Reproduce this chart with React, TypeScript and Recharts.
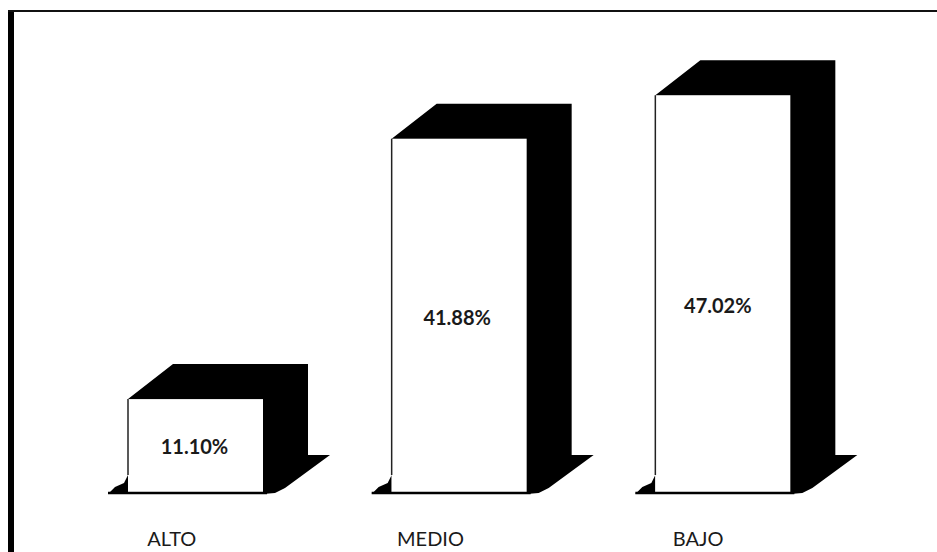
import { BarChart, Bar, XAxis, YAxis, LabelList } from "recharts";

const categories = ["ALTO", "MEDIO", "BAJO"];
const percentages = [11.1, 41.88, 47.02];
const labels = ["11.10%", "41.88%", "47.02%"];

const rows = categories.map((name, i) => ({
  name,
  value: percentages[i],
  label: labels[i],
}));

const FONT = "Lato, 'Open Sans', sans-serif";

// hand nudges: names sit left of their columns, values are not quite centred
const tickNudge = [-24, -29, -25];
const labelNudge = [
  { x: -1, y: 0 },
  { x: -2, y: 1 },
  { x: -5, y: 11 },
];

// front face with black side, top and a floor shadow, like an old 3D column
function Column3D({ x, y, width, height }: any) {
  const base = y + height;
  const right = x + width;
  const dx = 45;
  const dy = 35;
  return (
    <g>
      <path
        d={`M${x - 20} ${base + 1} L${x - 13} ${base - 6} L${x - 4} ${base - 10} L${x} ${base - 18} L${x} ${base + 1} Z`}
        fill="#000"
      />
      {/* top, side and right floor shadow as one outline so no seam shows */}
      <path
        d={`M${x} ${y} L${x + dx} ${y - dy} L${right + dx} ${y - dy} L${right + dx} ${base - 38} L${right + 67} ${base - 38} L${right + 22} ${base - 5} L${right + 12} ${base} L${right} ${base + 1} Z`}
        fill="#000"
      />
      <rect x={x} y={y} width={width} height={height} fill="#fff" />
      <path
        d={`M${x} ${base - 18} L${x} ${y}`}
        stroke="#222"
        strokeWidth={1.5}
        fill="none"
      />
      <path
        d={`M${x - 20} ${base} L${right + 4} ${base}`}
        stroke="#000"
        strokeWidth={2.5}
        fill="none"
      />
    </g>
  );
}

function CategoryTick({ x, y, payload, index }: any) {
  return (
    <text
      x={x + tickNudge[index]}
      y={y + 45}
      textAnchor="middle"
      fontFamily={FONT}
      fontSize={20}
      fill="#1a1a1a"
    >
      {payload.value}
    </text>
  );
}

function ValueLabel({ x, y, width, height, value, index }: any) {
  const nudge = labelNudge[index];
  return (
    <text
      x={x + width / 2 + nudge.x}
      y={y + height / 2 + nudge.y}
      textAnchor="middle"
      dominantBaseline="central"
      fontFamily={FONT}
      fontSize={20}
      fontWeight={700}
      fill="#1a1a1a"
    >
      {value}
    </text>
  );
}

export default function App() {
  return (
    <div style={{ position: "absolute", left: 0, top: 0, width: 937, height: 552, background: "#fff", overflow: "hidden" }}>
      <div style={{ position: "absolute", left: 8, top: 10, width: 6, height: 542, background: "#000" }} />
      <div style={{ position: "absolute", left: 8, top: 10, width: 929, height: 2, background: "#111" }} />
      <BarChart
        width={937}
        height={552}
        data={rows}
        margin={{ top: 70, right: 82, bottom: 0, left: 64 }}
        barSize={135}
        style={{ position: "absolute", left: 0, top: 0 }}
      >
        <XAxis
          dataKey="name"
          axisLine={false}
          tickLine={false}
          interval={0}
          height={59}
          tick={<CategoryTick />}
        />
        <YAxis hide domain={[0, 50]} />
        <Bar dataKey="value" isAnimationActive={false} shape={<Column3D />}>
          <LabelList dataKey="label" content={<ValueLabel />} />
        </Bar>
      </BarChart>
    </div>
  );
}
